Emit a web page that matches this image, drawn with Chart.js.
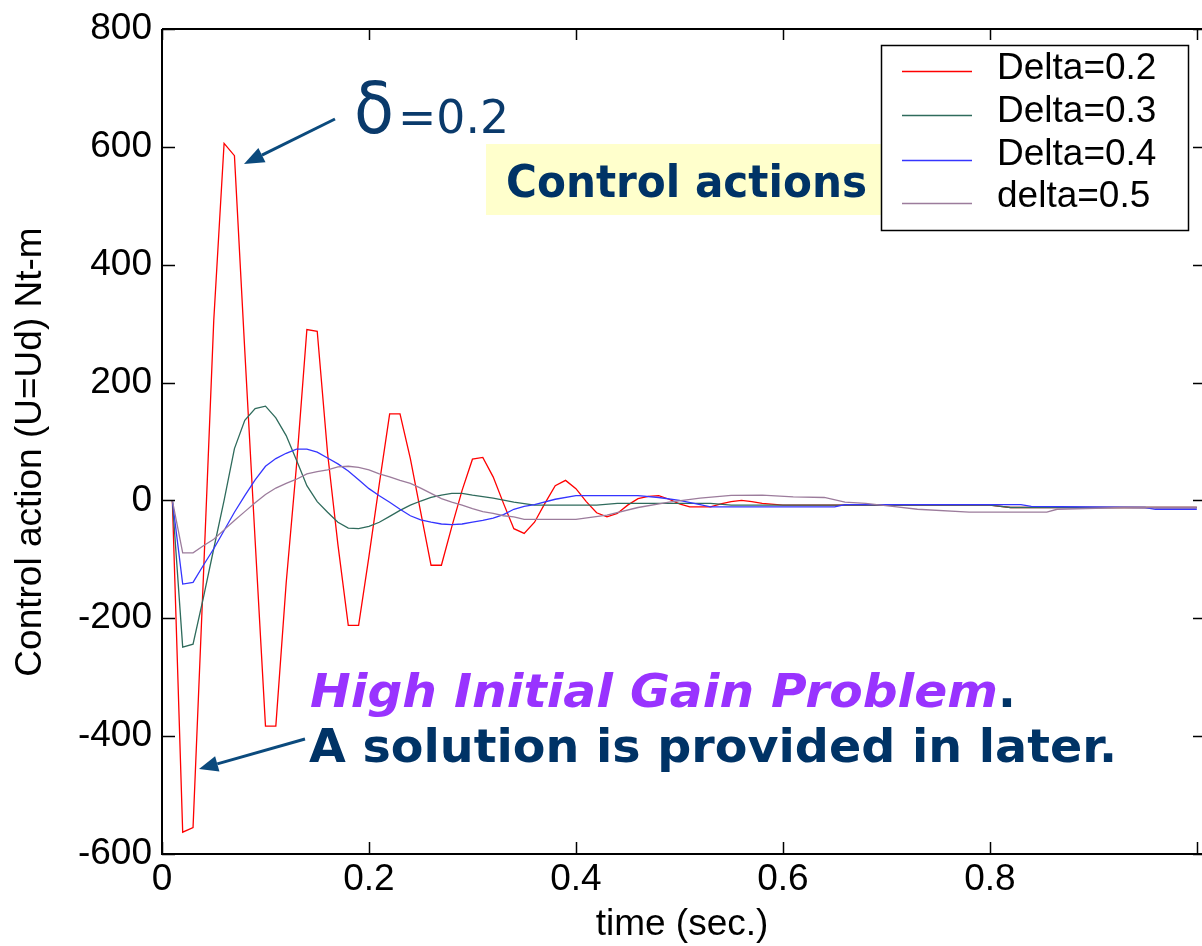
<!DOCTYPE html>
<html>
<head>
<meta charset="utf-8">
<script src="https://cdn.jsdelivr.net/npm/chart.js@4.4.1/dist/chart.umd.min.js"></script>
<style>
html,body{margin:0;padding:0;background:#fff;}
#wrap{width:1202px;height:946px;}
</style>
</head>
<body>
<div id="wrap"><canvas id="c" width="1202" height="946"></canvas></div>
<script>
// ---- data ----
const seriesLabels = ['Delta=0.2', 'Delta=0.3', 'Delta=0.4', 'delta=0.5'];
const xTickValues = [0, 0.2, 0.4, 0.6, 0.8, 1];
const yTickValues = [-600, -400, -200, 0, 200, 400, 600, 800];
const xTitle = 'time (sec.)';
const yTitle = 'Control action (U=Ud) Nt-m';

const redT = [0.01,0.02,0.03,0.04,0.05,0.06,0.07,0.08,0.09,0.10,0.11,0.12,0.13,0.14,0.15,0.16,0.17,0.18,0.19,0.20,0.21,0.22,0.23,0.24,0.25,0.26,0.27,0.28,0.29,0.30,0.31,0.32,0.33,0.34,0.35,0.36,0.37,0.38,0.39,0.40,0.41,0.42,0.43,0.44,0.45,0.46,0.47,0.48,0.49,0.50,0.51,0.52,0.53,0.54,0.55,0.56,0.57,0.58,0.60,0.80,0.82,1.00];
const redU = [0,-563,-555,-130,305,606,585,254,-68,-383,-383,-140,60,290,287,80,-75,-212,-212,-95,28,147,147,71,-20,-110,-110,-45,17,70,73,40,-5,-48,-56,-37,-5,25,34,20,-2,-21,-28,-22,-8,3,7,8,2,-6,-11,-11,-11,-6,-2,0,-2,-5,-8,-8,-12,-12];

const greenT = [0.01,0.02,0.03,0.04,0.05,0.06,0.07,0.08,0.09,0.10,0.11,0.12,0.13,0.14,0.15,0.16,0.17,0.18,0.19,0.20,0.21,0.22,0.23,0.24,0.25,0.26,0.27,0.28,0.29,0.30,0.32,0.34,0.36,0.42,0.44,0.53,0.55,0.80,0.82,1.00];
const greenU = [0,-249,-244,-165,-82,0,88,136,156,160,140,110,68,25,-2,-20,-37,-47,-48,-44,-37,-27,-17,-8,-1,5,9,12,12,9,4,-3,-8,-8,-5,-5,-8,-8,-12,-12];

const blueT = [0.01,0.02,0.03,0.04,0.05,0.06,0.07,0.08,0.09,0.10,0.11,0.12,0.13,0.14,0.15,0.16,0.17,0.18,0.19,0.20,0.21,0.22,0.23,0.24,0.25,0.26,0.27,0.28,0.29,0.30,0.31,0.32,0.33,0.34,0.35,0.36,0.38,0.40,0.46,0.48,0.50,0.52,0.53,0.65,0.66,0.83,0.84,0.95,0.96,1.00];
const blueU = [0,-142,-139,-110,-82,-51,-20,8,35,58,71,80,87,87,82,72,62,50,35,20,8,-3,-15,-26,-33,-37,-40,-41,-40,-37,-34,-30,-24,-15,-10,-7,2,8,8,5,0,-7,-11,-11,-7,-7,-10,-12,-15,-15];

const purpleT = [0.01,0.02,0.03,0.04,0.05,0.06,0.07,0.08,0.09,0.10,0.11,0.12,0.13,0.14,0.15,0.16,0.17,0.18,0.19,0.20,0.21,0.22,0.23,0.24,0.25,0.26,0.27,0.28,0.29,0.30,0.31,0.32,0.33,0.34,0.35,0.40,0.43,0.46,0.49,0.52,0.55,0.58,0.61,0.64,0.66,0.68,0.71,0.73,0.78,0.855,0.865,0.93,1.00];
const purpleU = [0,-89,-89,-77,-66,-50,-34,-19,-4,10,21,29,36,45,49,52,57,58,56,52,45,40,34,29,21,12,3,-3,-8,-14,-19,-22,-26,-28,-32,-32,-25,-12,-3,4,8.5,9,6,5,-3,-5,-11,-15,-20,-20,-15,-12,-12];

// ---- styling ----
const colors = ['#ff0000', '#2f6b5c', '#3535ff', '#9c7c9c'];
const NAVY = '#003366';
const ARROW = '#0b4a7d';
const FAMILY = '"Liberation Sans", Arial, sans-serif';
const tickFont = {family: FAMILY, size: 37};

function pts(t, u) { return t.map((v, i) => ({x: v, y: u[i]})); }

const seriesT = [redT, greenT, blueT, purpleT];
const seriesU = [redU, greenU, blueU, purpleU];

const datasets = seriesLabels.map((lab, i) => ({
  label: lab,
  data: pts(seriesT[i], seriesU[i]),
  borderColor: colors[i],
  backgroundColor: colors[i],
  borderWidth: 1.3,
  pointRadius: 0,
  tension: 0,
  fill: false,
  order: 4 - i
}));

function fitText(ctx, text, x, y, targetW) {
  const w = ctx.measureText(text).width;
  ctx.save();
  ctx.translate(x, y);
  ctx.scale(targetW / w, 1);
  ctx.fillText(text, 0, 0);
  ctx.restore();
  return targetW;
}

function arrow(ctx, x1, y1, x2, y2, headLen, headW) {
  const ang = Math.atan2(y2 - y1, x2 - x1);
  const bx = x2 - headLen * Math.cos(ang), by = y2 - headLen * Math.sin(ang);
  ctx.save();
  ctx.strokeStyle = ARROW; ctx.fillStyle = ARROW; ctx.lineWidth = 3;
  ctx.beginPath(); ctx.moveTo(x1, y1); ctx.lineTo(bx, by); ctx.stroke();
  ctx.beginPath();
  ctx.moveTo(x2, y2);
  ctx.lineTo(bx + headW / 2 * Math.sin(ang), by - headW / 2 * Math.cos(ang));
  ctx.lineTo(bx - headW / 2 * Math.sin(ang), by + headW / 2 * Math.cos(ang));
  ctx.closePath(); ctx.fill();
  ctx.restore();
}

const framePlugin = {
  id: 'frame',
  afterDatasetsDraw(chart) {
    const {ctx, chartArea: a, scales: {x, y}} = chart;
    ctx.save();
    ctx.strokeStyle = '#000'; ctx.lineWidth = 2;
    ctx.beginPath();
    ctx.moveTo(a.left, a.top); ctx.lineTo(a.left, a.bottom); ctx.lineTo(a.right, a.bottom);
    ctx.moveTo(a.left, a.top); ctx.lineTo(a.right, a.top);
    ctx.stroke();
    ctx.lineWidth = 1.5;
    ctx.beginPath();
    xTickValues.forEach(v => {
      const px = Math.round(x.getPixelForValue(v)) + 0.5;
      ctx.moveTo(px, a.bottom); ctx.lineTo(px, a.bottom - 12);
      ctx.moveTo(px, a.top); ctx.lineTo(px, a.top + 11);
    });
    yTickValues.forEach(v => {
      const py = Math.round(y.getPixelForValue(v)) + 0.5;
      ctx.moveTo(a.left, py); ctx.lineTo(a.left + 13, py);
      ctx.moveTo(a.right, py); ctx.lineTo(a.right - 9, py);
    });
    ctx.stroke();
    ctx.restore();
  },
  afterDraw(chart) {
    const ctx = chart.ctx;
    ctx.save();
    // y axis title
    ctx.save();
    ctx.translate(31, 452);
    ctx.rotate(-Math.PI / 2);
    ctx.fillStyle = '#000';
    ctx.font = '37px ' + FAMILY;
    ctx.textAlign = 'center';
    ctx.textBaseline = 'middle';
    ctx.fillText(yTitle, 0, 0);
    ctx.restore();

    // yellow box + "Control actions"
    ctx.fillStyle = '#ffffcc';
    ctx.fillRect(486, 144, 402, 71);
    ctx.fillStyle = NAVY;
    ctx.font = 'bold 44px "DejaVu Sans", Verdana, sans-serif';
    ctx.textBaseline = 'alphabetic';
    fitText(ctx, 'Control actions', 506, 197, 361);

    // delta label
    ctx.fillStyle = '#0a3a6b';
    ctx.font = '72px "DejaVu Sans", sans-serif';
    fitText(ctx, 'δ', 354, 133, 40);
    ctx.font = '47px "DejaVu Sans", sans-serif';
    fitText(ctx, '=0.2', 398, 133, 111);

    // High initial gain text
    ctx.font = 'italic bold 47px "DejaVu Sans", Verdana, sans-serif';
    ctx.fillStyle = '#9933ff';
    const w1 = fitText(ctx, 'High Initial Gain Problem', 310, 707, 688);
    ctx.fillStyle = NAVY;
    ctx.font = 'bold 47px "DejaVu Sans", Verdana, sans-serif';
    ctx.fillText('.', 310 + w1, 707);
    fitText(ctx, 'A solution is provided in later.', 309, 762, 808);

    // arrows
    arrow(ctx, 335, 119, 244, 164, 20, 16);
    arrow(ctx, 305, 739, 199, 769, 19, 16);

    // legend
    ctx.fillStyle = '#fff';
    ctx.fillRect(881, 45, 307, 185);
    ctx.strokeStyle = '#000'; ctx.lineWidth = 1.5;
    ctx.strokeRect(881.5, 45.5, 307, 185);
    const rowsLine = [71, 115, 160, 203];
    const rowsText = [79, 122, 165, 207];
    ctx.font = '37px ' + FAMILY;
    chart.data.datasets.forEach((ds, i) => {
      ctx.strokeStyle = ds.borderColor; ctx.lineWidth = 1.3;
      ctx.beginPath(); ctx.moveTo(902, rowsLine[i] + 0.5); ctx.lineTo(972, rowsLine[i] + 0.5); ctx.stroke();
      ctx.fillStyle = '#000';
      ctx.fillText(ds.label, 997, rowsText[i]);
    });
    ctx.restore();
  }
};

new Chart(document.getElementById('c'), {
  type: 'line',
  data: {datasets},
  options: {
    responsive: false,
    animation: false,
    devicePixelRatio: 1,
    layout: {padding: {top: 29, left: 0, right: 0, bottom: 0}},
    plugins: {legend: {display: false}, tooltip: {enabled: false}},
    scales: {
      x: {
        type: 'linear', min: 0, max: 1.005,
        grid: {display: false, drawTicks: false}, border: {display: false},
        afterBuildTicks: s => { s.ticks = xTickValues.map(v => ({value: v})); },
        ticks: {
          font: tickFont, color: '#000', padding: 4, maxRotation: 0, autoSkip: false,
          callback: v => (v === 1 ? '' : String(Math.round(v * 10) / 10))
        },
        title: {display: true, text: xTitle, color: '#000',
          font: {family: FAMILY, size: 37, lineHeight: 1.15}, padding: {top: 0, bottom: 0}},
        afterFit: s => { s.height = 92; s.paddingLeft = 0; s.paddingRight = 0; }
      },
      y: {
        type: 'linear', min: -600, max: 800,
        grid: {display: false, drawTicks: false}, border: {display: false},
        afterBuildTicks: s => { s.ticks = yTickValues.map(v => ({value: v})); },
        ticks: {font: tickFont, color: '#000', padding: 10, autoSkip: false,
          callback: v => String(v)},
        title: {display: false},
        afterFit: s => { s.width = 162; s.paddingTop = 0; s.paddingBottom = 0; }
      }
    }
  },
  plugins: [framePlugin]
});
</script>
</body>
</html>
